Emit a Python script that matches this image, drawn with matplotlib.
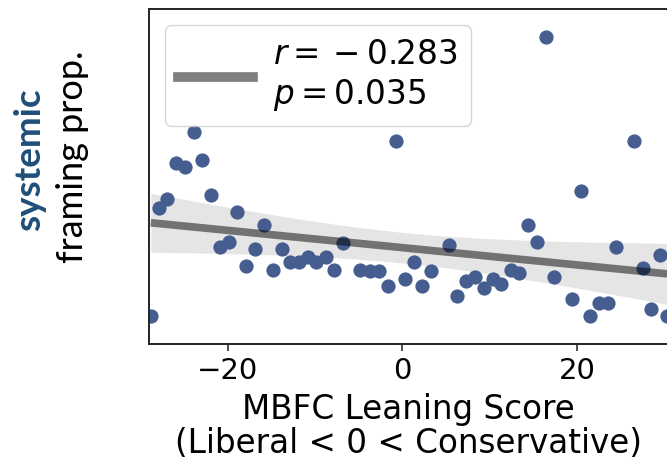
import matplotlib
matplotlib.use("Agg")
import matplotlib.pyplot as plt
from matplotlib.lines import Line2D
import numpy as np

# MBFC leaning score per outlet, and its "systemic" framing proportion
score = [-28.8, -27.9, -26.9, -25.9, -24.9, -23.9, -22.9, -21.9, -20.9, -19.9,
         -18.9, -17.9, -16.9, -15.8, -14.8, -13.8, -12.9, -11.8, -10.8, -9.9,
         -8.8, -7.8, -6.8, -4.8, -3.7, -2.7, -1.7, -0.7, 0.3, 1.3,
         2.3, 3.3, 5.3, 6.3, 7.3, 8.3, 9.3, 10.4, 11.3, 12.4,
         13.4, 14.4, 15.4, 16.4, 17.4, 19.4, 20.4, 21.5, 22.5, 23.5,
         24.5, 26.5, 27.5, 28.5, 29.5, 30.3]
prop = [0.035, 0.093, 0.098, 0.117, 0.115, 0.134, 0.119, 0.100, 0.072, 0.075,
        0.091, 0.062, 0.071, 0.084, 0.060, 0.071, 0.064, 0.064, 0.067, 0.064,
        0.067, 0.060, 0.074, 0.060, 0.059, 0.059, 0.051, 0.129, 0.055, 0.064,
        0.051, 0.059, 0.073, 0.046, 0.054, 0.056, 0.050, 0.055, 0.052, 0.060,
        0.058, 0.084, 0.075, 0.185, 0.056, 0.044, 0.102, 0.035, 0.042, 0.042,
        0.072, 0.129, 0.061, 0.039, 0.068, 0.035]
r_text = r"$r= {}-{} 0.283$"
p_text = r"$p=0.035$"
xticks = [-20, 0, 20]

x = np.array(score)
y = np.array(prop)

# linear fit + 95% band (analytic, instead of seaborn bootstrap)
n = len(x)
b, a = np.polyfit(x, y, 1)
xs = np.linspace(x.min(), x.max(), 100)
yhat = a + b * xs
resid = y - (a + b * x)
s = np.sqrt(np.sum(resid ** 2) / (n - 2))
sxx = np.sum((x - x.mean()) ** 2)
se = s * np.sqrt(1 / n + (xs - x.mean()) ** 2 / sxx)
lo = yhat - 2.2 * se
hi = yhat + 2.2 * se

fig = plt.figure(figsize=(6.67, 4.66), dpi=100)
ax = fig.add_axes([0.2234, 0.2618, 0.7781, 0.7189])

ax.scatter(x, y, s=105, color="#465d8f", linewidths=0, zorder=2)
ax.fill_between(xs, lo, hi, color="k", alpha=0.10, linewidth=0, zorder=1)
ax.plot(xs, yhat, color="k", alpha=0.5, lw=5.5, zorder=3, solid_capstyle="butt")

ax.set_xlim(-29.0, 30.4)
ax.set_ylim(0.02, 0.20)
ax.set_yticks([])
ax.set_xticks(xticks)
ax.tick_params(axis="x", labelsize=21, length=5, width=1.2, color="#333333", pad=4)
for sp in ax.spines.values():
    sp.set_linewidth(1.4)
    sp.set_color("#222222")

ax.set_xlabel("MBFC Leaning Score\n(Liberal < 0 < Conservative)", fontsize=23.5,
              labelpad=6, linespacing=1.05)

fig.text(0.045, 0.657, "systemic", rotation=90, ha="center", va="center",
         fontsize=26.5, fontweight="bold", color="#1f4e79", family="Lato")
fig.text(0.108, 0.663, "framing prop.", rotation=90, ha="center", va="center",
         fontsize=26, color="black", family="Lato")

handle = Line2D([], [], color="k", alpha=0.5, lw=7)
ax.legend([handle], [r_text + "\n" + p_text], loc="upper left", fontsize=23.5,
          handlelength=2.3, borderaxespad=0.5, handletextpad=0.6,
          labelspacing=0.2, borderpad=0.4)

fig.savefig("out.png", dpi=100)
